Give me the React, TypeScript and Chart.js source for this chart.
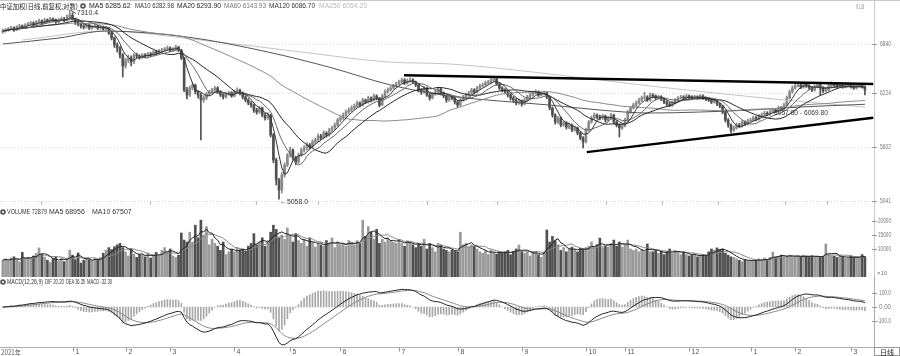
import React, { useEffect, useRef } from "react";
import { Chart, registerables } from "chart.js";

Chart.register(...registerables);

// ---------------- DATA ----------------
const monthLabels = ["2021年", "1", "2", "3", "4", "5", "6", "7", "8", "9", "10", "11", "12", "1", "2", "3"];
const monthDays = [-1, 25, 44, 60, 83, 103, 121, 142, 163, 186, 209, 223, 246, 268, 284, 304];

const firstOpen = 7010;
const closes = [
  7021, 7035, 7049, 7063, 7035, 7076, 7090, 7076, 7104,
  7118, 7132, 7104, 7146, 7160, 7132, 7174, 7160, 7188, 7174, 7146, 7174, 7188, 7174,
  7215, 7243, 7188, 7146,
  7118, 7090, 7076, 7104, 7063, 7076, 7090, 7063, 7076, 7049, 7063,
  6994, 6926, 6833,
  6793, 6701, 6559, 6636, 6662, 6610, 6701, 6688,
  6675, 6701, 6688, 6714, 6701, 6740, 6727, 6753, 6766, 6779, 6793, 6766,
  6779, 6806, 6766,
  6662, 6259, 6198, 6283, 6320, 6235, 6198,
  6138,
  6162, 6210, 6235, 6259, 6283,
  6235, 6198, 6174, 6210, 6222, 6186, 6235, 6259, 6222,
  6174, 6138, 6102, 6078,
  6019, 5996, 6043, 5961, 5926, 5961,
  5733, 5460, 5252, 5150,
  5303, 5407, 5514, 5568, 5482,
  5439, 5514, 5568, 5590, 5623, 5601,
  5656, 5678, 5722, 5700, 5756, 5733, 5789,
  5812, 5846, 5903, 5926, 5961, 5996, 6019,
  6043, 6066, 6102, 6078, 6138, 6114, 6162, 6138, 6186, 6162,
  6078,
  6186, 6235, 6259, 6283, 6308, 6332,
  6357, 6382, 6345, 6370, 6382, 6357, 6320,
  6259, 6235, 6283, 6198, 6162, 6210, 6235, 6271, 6222, 6186, 6138, 6174,
  6162, 6114, 6078, 6138, 6174, 6198,
  6222, 6259, 6235, 6283, 6308, 6320, 6345, 6357, 6382,
  6395,
  6332, 6283, 6259, 6235, 6198, 6162, 6138, 6102, 6126, 6090,
  6138, 6174, 6198, 6222, 6235, 6198, 6210, 6222, 6174,
  6043, 5961, 5880, 5926, 5846,
  5869, 5823, 5846, 5789, 5812, 5756, 5700, 5656,
  5789, 5880, 5926, 5961, 5938,
  5926, 5949, 5903, 5926, 5961, 5880, 5846, 5812, 5835,
  5903, 5996, 6043, 6078, 6102, 6138,
  6162, 6174, 6138, 6198, 6186, 6162, 6174, 6150,
  6114, 6090, 6078, 6102, 6138, 6162, 6174, 6162, 6186, 6174, 6162,
  6174, 6162, 6186, 6162, 6150, 6138, 6114, 6126, 6090, 6066,
  5996, 5903, 5846, 5789, 5812,
  5846, 5835, 5880, 5857, 5892, 5903, 5926, 5915,
  5949, 5961, 5984, 5973, 5996, 6019, 6007, 6043, 6031,
  6078, 6162, 6235, 6283, 6308,
  6320, 6296, 6332, 6308, 6283, 6259, 6296, 6320, 6283, 6247, 6259, 6308, 6332, 6320, 6296, 6308,
  6296, 6308, 6320, 6296, 6283, 6308, 6320, 6296, 6259,
];

const highs = [
  7050, 7060, 7070, 7085, 7080, 7095, 7115, 7105, 7125,
  7140, 7155, 7150, 7165, 7185, 7175, 7195, 7190, 7210, 7205, 7190, 7195, 7215, 7210,
  7245, 7310.4, 7275, 7200,
  7165, 7135, 7110, 7125, 7115, 7100, 7110, 7105, 7095, 7090, 7085,
  7075, 7010, 6940,
  6860, 6810, 6720, 6660, 6700, 6690, 6720, 6725,
  6705, 6720, 6720, 6735, 6735, 6760, 6760, 6775, 6790, 6800, 6820, 6810,
  6800, 6830, 6815,
  6775, 6670, 6290, 6310, 6345, 6330, 6250,
  6220,
  6190, 6230, 6255, 6280, 6305,
  6300, 6250, 6215, 6230, 6245, 6240, 6255, 6285, 6270,
  6235, 6190, 6155, 6120,
  6090, 6040, 6060, 6055, 5980, 5985,
  5970, 5750, 5480, 5270,
  5330, 5430, 5530, 5600, 5580,
  5500, 5535, 5590, 5615, 5650, 5640,
  5680, 5700, 5745, 5740, 5780, 5770, 5810,
  5835, 5870, 5925, 5950, 5985, 6020, 6045,
  6070, 6090, 6125, 6115, 6160, 6150, 6185, 6175, 6210, 6200,
  6170,
  6205, 6260, 6285, 6305, 6330, 6355,
  6380, 6405, 6400, 6395, 6410, 6400, 6370,
  6330, 6275, 6305, 6295, 6215, 6230, 6260, 6295, 6285, 6235, 6200, 6195,
  6190, 6175, 6130, 6155, 6195, 6220,
  6245, 6280, 6275, 6305, 6330, 6345, 6370, 6380, 6405,
  6420,
  6410, 6345, 6300, 6275, 6250, 6215, 6180, 6155, 6150, 6140,
  6160, 6195, 6220, 6245, 6260, 6250, 6235, 6245, 6235,
  6185, 6055, 5975, 5945, 5940,
  5890, 5885, 5870, 5860, 5835, 5825, 5770, 5715,
  5810, 5900, 5950, 5985, 5975,
  5960, 5970, 5960, 5945, 5980, 5970, 5895, 5860, 5855,
  5925, 6015, 6065, 6100, 6125, 6160,
  6185, 6230, 6190, 6220, 6215, 6200, 6195, 6190,
  6165, 6130, 6110, 6120, 6155, 6180, 6195, 6190, 6205, 6200, 6190,
  6195, 6190, 6205, 6200, 6175, 6165, 6150, 6145, 6140, 6100,
  6075, 6010, 5920, 5860, 5835,
  5870, 5865, 5900, 5895, 5915, 5925, 5950, 5945,
  5970, 5985, 6005, 6000, 6020, 6040, 6035, 6065, 6060,
  6100, 6185, 6260, 6310, 6335,
  6345, 6335, 6355, 6345, 6325, 6300, 6320, 6345, 6340, 6300, 6280, 6330, 6360, 6350, 6335, 6330,
  6325, 6330, 6345, 6335, 6315, 6330, 6340, 6335, 6310,
];

const lows = [
  6990, 7005, 7020, 7035, 7015, 7025, 7060, 7055, 7065,
  7090, 7105, 7085, 7095, 7130, 7110, 7120, 7140, 7150, 7155, 7125, 7135, 7165, 7150,
  7160, 7200, 7170, 7110,
  7090, 7060, 7050, 7060, 7040, 7045, 7060, 7040, 7045, 7030, 7035,
  6975, 6900, 6800,
  6740, 6660, 6420, 6530, 6600, 6560, 6590, 6660,
  6645, 6655, 6665, 6670, 6680, 6690, 6705, 6710, 6740, 6750, 6765, 6745,
  6750, 6765, 6745,
  6640, 6240, 6150, 6180, 6260, 6210, 6160,
  5678,
  6110, 6140, 6190, 6220, 6240,
  6215, 6180, 6150, 6160, 6195, 6170, 6175, 6220, 6200,
  6150, 6115, 6080, 6050,
  5990, 5970, 5980, 5940, 5900, 5910,
  5710, 5430, 5200, 5058,
  5120, 5280, 5390, 5490, 5460,
  5410, 5425, 5500, 5545, 5570, 5580,
  5590, 5635, 5660, 5680, 5690, 5710, 5720,
  5770, 5795, 5830, 5885, 5910, 5945, 5980,
  6000, 6025, 6050, 6055, 6065, 6095, 6100, 6115, 6125, 6140,
  6055,
  6070, 6170, 6220, 6245, 6270, 6295,
  6320, 6340, 6325, 6330, 6355, 6335, 6300,
  6235, 6205, 6220, 6180, 6135, 6150, 6195, 6220, 6200, 6165, 6110, 6120,
  6140, 6090, 6050, 6065, 6125, 6160,
  6185, 6210, 6215, 6225, 6270, 6295, 6305, 6330, 6340,
  6365,
  6315, 6260, 6235, 6210, 6175, 6135, 6110, 6080, 6085, 6065,
  6080, 6125, 6160, 6185, 6210, 6180, 6185, 6195, 6155,
  6020, 5935, 5855, 5860, 5825,
  5830, 5800, 5805, 5770, 5775, 5735, 5680, 5590,
  5645, 5775, 5865, 5910, 5915,
  5905, 5910, 5880, 5885, 5910, 5860, 5825, 5711, 5795,
  5825, 5890, 5980, 6030, 6060, 6090,
  6120, 6145, 6120, 6125, 6165, 6140, 6150, 6130,
  6095, 6070, 6060, 6060, 6090, 6125, 6150, 6145, 6150, 6155, 6145,
  6150, 6145, 6150, 6145, 6130, 6120, 6095, 6100, 6070, 6045,
  5975, 5880, 5820, 5760, 5770,
  5800, 5815, 5820, 5840, 5845, 5880, 5890, 5895,
  5900, 5935, 5945, 5955, 5960, 5985, 5990, 5995, 6015,
  6020, 6070, 6150, 6220, 6270,
  6295, 6275, 6280, 6290, 6265, 6240, 6245, 6285, 6200, 6225, 6235, 6245, 6295, 6300, 6280, 6285,
  6280, 6285, 6295, 6280, 6265, 6270, 6295, 6280, 6200,
];

// volume in axis units (x10)
const volumes = [
  6000, 6500, 5800, 6800, 7200, 6200, 5500, 8800, 6400, 7000, 6600, 7500,
  8500, 10400, 8200,
  7000, 6000, 5200, 6500, 7200, 5600, 6800, 5500,
  6500, 9600, 7800, 6200, 8600, 5000, 6000, 6800,
  6200, 5800, 6500, 6000, 7000,
  8500, 9500, 10500, 9800, 10800,
  11500, 12000, 10500,
  9000, 7500, 10000, 8200, 7000, 8000,
  8000, 7200, 8600, 6800, 7800, 8800, 7400,
  9500, 10500, 9000, 10000,
  7500, 7000, 7800,
  15700, 13200, 12500,
  16000, 12500, 18500, 14000,
  20300,
  15000, 18000, 11500, 13500,
  12000, 11000, 9500, 12500, 8000, 9000, 10000,
  9000, 10500, 9600, 10000, 9200,
  11000, 12000, 15500, 11500, 12500, 14000, 11000, 13000,
  16000, 18500, 17000, 14000, 15000,
  13500, 17500, 14500, 12500, 15500, 13000,
  12000, 13500, 11000, 14000, 12500, 10700, 12000, 11500,
  11000, 13000, 12000, 13900, 10500, 12500, 11500,
  12000, 11000, 13000, 12500, 11500, 13000, 12000,
  20300, 14500, 18000, 16000, 13500, 17000,
  12000, 13500, 12500, 14000, 13000, 12500, 12000, 13500,
  12000, 11000, 13000, 12500, 11500, 10500, 12000, 11000,
  13500, 10000, 12000, 10500, 9000, 12000, 11500, 10000, 9500, 9000,
  9600, 9200, 9000, 16000,
  11500, 12000, 10700, 11500, 11000, 10000,
  9000, 8500, 9500, 8000, 9600, 8800, 8200, 9000, 8500,
  9000, 9500, 8000, 9200, 10000, 11400, 9000,
  8500, 9000, 7500, 8800, 9200, 8000, 7000, 9000, 16800,
  12500, 14500, 13000, 11500,
  9500, 10500, 9000, 10000, 10700, 9800, 9000, 10300, 10000, 10500,
  11000, 12500, 10500, 11500, 13900, 10500, 11000,
  10700, 12000, 13200, 11000, 12500, 10700, 11500, 13200, 10000,
  9500, 10000, 9000, 9800, 9200, 11800, 9000,
  9000, 9500, 8500, 9200, 8000, 9000, 10000, 8500, 9500, 8800, 8000, 9000,
  8000, 7500, 7800, 8200, 7200, 7600, 8000, 7400,
  9000, 10000, 9600, 10400, 9800, 10000, 8500, 7800, 7200, 7000,
  6500, 6000, 5500, 6200, 5800, 6000,
  6000, 5800, 6500, 6000, 6800, 6200, 7000, 8900,
  7000, 7400, 7800, 7200, 7600, 7800, 7400, 7000, 7500, 7200, 7800, 7400, 7000, 7600, 7200, 7500, 7000, 7300,
  11800,
  8000, 7600, 7400, 7000, 7500, 7200, 6800, 7000, 7300, 6900, 7200, 7000, 8000, 7288,
];

const ma120Days = [0, 20, 37, 66, 95, 118, 139, 160, 178, 196, 214, 232, 250, 268, 286, 309];
const ma120Vals = [6846, 6926, 7021, 6940, 6740, 6534, 6320, 6186, 6126, 6078, 6019, 5984, 5996, 6019, 6055, 6087];
const ma250Days = [7, 37, 71, 107, 138, 160, 196, 232, 280, 309];
const ma250Vals = [6899, 7021, 6899, 6740, 6610, 6585, 6458, 6308, 6138, 6054];

const upperTrendDays = [143.8, 312];
const upperTrendVals = [6440, 6332];
const lowerTrendDays = [209.3, 312];
const lowerTrendVals = [5545, 5930];

const priceTicks = [6840, 6224, 5602, 5041];
const volTicks = [20000, 15000, 10000];
const macdTicks = [100, 0, -100];
const mainGridDays = [13.7, 52.8, 90.8, 113, 152, 177.1, 216.2, 236.3, 256.3, 280.4, 295.4];

const titleText = "中证加权(日线,前复权,对数)";
// [text, x, maxWidth, color]
const maLegend: [string, number, number, string][] = [
  ["MA5 6285.62", 89, 43, "#222"],
  ["MA10 6282.98", 135, 39, "#333"],
  ["MA20 6293.90", 177, 44, "#222"],
  ["MA60 6143.93", 224, 42, "#777"],
  ["MA120 6086.70", 269, 46, "#333"],
  ["MA250 6054.23", 319, 48, "#b8b8b8"],
];
const volLegend: [string, number, number][] = [["VOLUME 72879", 7, 40], ["MA5 68956", 49, 39], ["MA10 67507", 92, 41]];
const macdLegend: [string, number, number][] = [["MACD(12,26,9)", 7, 36], ["DIF 20.20", 45, 19], ["DEA 36.35", 66, 19], ["MACD -32.30", 87, 25]];
const rangeText = "6057.80 - 6069.80";

// ---------------- HELPERS ----------------
const N = Math.min(closes.length, highs.length, lows.length, volumes.length);
const idx = Array.from({ length: N }, (_, i) => i);
const opens = idx.map((i) => (i === 0 ? firstOpen : closes[i - 1]));
const isUp = idx.map((i) => closes[i] >= opens[i]);

function sma(arr: number[], n: number) {
  return arr.map((_, i) => {
    const s = Math.max(0, i - n + 1);
    let sum = 0;
    for (let k = s; k <= i; k++) sum += arr[k];
    return sum / (i - s + 1);
  });
}
function ema(arr: number[], n: number) {
  const a = 2 / (n + 1);
  const out: number[] = [];
  arr.forEach((v, i) => out.push(i === 0 ? v : out[i - 1] + a * (v - out[i - 1])));
  return out;
}
const cl = closes.slice(0, N);
const vol = volumes.slice(0, N);
const ema12 = ema(cl, 12);
const ema26 = ema(cl, 26);
const dif = cl.map((_, i) => ema12[i] - ema26[i]);
const dea = ema(dif, 9);
const hist = dif.map((d, i) => 2 * (d - dea[i]));

const XMIN = -1;
const XMAX = 312.26;
const FONT = '7px "Liberation Sans", Arial, sans-serif';
const CJK = '7px "Noto Sans CJK SC", sans-serif';

function txt(ctx: any, s: string, x: number, y: number, color: string, font = FONT, align = "left", maxW?: number) {
  ctx.save();
  ctx.font = font;
  ctx.fillStyle = color;
  ctx.textAlign = align;
  ctx.textBaseline = "middle";
  if (maxW) ctx.fillText(s, x, y, maxW);
  else ctx.fillText(s, x, y);
  ctx.restore();
}
function icon(ctx: any, x: number, y: number) {
  ctx.save();
  ctx.fillStyle = "#555";
  ctx.beginPath();
  ctx.arc(x, y, 2.8, 0, Math.PI * 2);
  ctx.fill();
  ctx.fillStyle = "#fff";
  ctx.beginPath();
  ctx.arc(x, y, 1.1, 0, Math.PI * 2);
  ctx.fill();
  ctx.restore();
}
function hline(ctx: any, x1: number, x2: number, y: number, color: string, dash: number[] = []) {
  ctx.save();
  ctx.strokeStyle = color;
  ctx.lineWidth = 1;
  ctx.setLineDash(dash);
  ctx.beginPath();
  ctx.moveTo(x1, y);
  ctx.lineTo(x2, y);
  ctx.stroke();
  ctx.restore();
}
function vline(ctx: any, x: number, y1: number, y2: number, color: string) {
  ctx.save();
  ctx.strokeStyle = color;
  ctx.lineWidth = 1;
  ctx.beginPath();
  ctx.moveTo(x, y1);
  ctx.lineTo(x, y2);
  ctx.stroke();
  ctx.restore();
}

function lineDs(data: any[], color: string, width = 1, order = 1, extra: any = {}) {
  return {
    type: "line",
    data,
    borderColor: color,
    borderWidth: width,
    pointRadius: 0,
    fill: false,
    order,
    ...extra,
  };
}

function baseOptions(yType: string, ymin: number, ymax: number, bottomPad = 0) {
  return {
    responsive: false,
    animation: false,
    devicePixelRatio: 1,
    events: [],
    layout: { padding: { left: 0, right: 26, top: 0, bottom: bottomPad } },
    plugins: { legend: { display: false }, tooltip: { enabled: false } },
    scales: {
      x: { type: "linear", min: XMIN, max: XMAX, display: false, offset: false },
      y: { type: yType, min: ymin, max: ymax, display: false },
    },
  };
}

// ---------------- CHART CONFIGS ----------------
function mainConfig(): any {
  const ma = (n: number) => sma(cl, n).map((v, i) => ({ x: i, y: v }));
  const candleColor = idx.map((i) => (isUp[i] ? "#8a8a8a" : "#505050"));
  return {
    type: "bar",
    data: {
      datasets: [
        {
          data: idx.map((i) => ({ x: i, y: [lows[i], highs[i]] })),
          backgroundColor: candleColor,
          barThickness: 1,
          grouped: false,
          order: 20,
        },
        {
          data: idx.map((i) => ({ x: i, y: [opens[i], closes[i]] })),
          backgroundColor: candleColor,
          barThickness: 2,
          grouped: false,
          order: 19,
        },
        lineDs(ma250Days.map((d, i) => ({ x: d, y: ma250Vals[i] })), "#c4c4c4", 1, 9, { cubicInterpolationMode: "monotone" }),
        lineDs(ma120Days.map((d, i) => ({ x: d, y: ma120Vals[i] })), "#555", 1, 8, { cubicInterpolationMode: "monotone" }),
        lineDs(ma(60), "#888", 1, 7),
        lineDs(ma(20), "#222", 1, 6),
        lineDs(ma(10), "#666", 1, 5),
        lineDs(ma(5), "#333", 1, 4),
        lineDs(upperTrendDays.map((d, i) => ({ x: d, y: upperTrendVals[i] })), "#000", 2.5, 0),
        lineDs(lowerTrendDays.map((d, i) => ({ x: d, y: lowerTrendVals[i] })), "#000", 2.5, 0),
      ],
    },
    options: baseOptions("logarithmic", 5002, 7459),
    plugins: [
      {
        id: "mainDeco",
        beforeDatasetsDraw(chart: any) {
          const { ctx, chartArea, scales } = chart;
          priceTicks.forEach((v) => {
            const y = Math.round(scales.y.getPixelForValue(v)) + 0.5;
            hline(ctx, chartArea.left, chartArea.right, y, "#d6d6d6", [1, 2]);
          });
        },
        afterDraw(chart: any) {
          const { ctx, chartArea, scales } = chart;
          const R = chartArea.right;
          hline(ctx, 0, 900, 0.5, "#c8c8c8");
          vline(ctx, R + 0.5, 0, chart.height, "#c8c8c8");
          priceTicks.forEach((v) => {
            const y = Math.round(scales.y.getPixelForValue(v)) + 0.5;
            hline(ctx, R - 2, R + 3, y, "#999");
            txt(ctx, String(v), 891, y, "#777", FONT, "right", 11);
          });
          mainGridDays.forEach((d) => {
            const x = Math.round(scales.x.getPixelForValue(d)) + 0.5;
            vline(ctx, x, chartArea.bottom - 4, chartArea.bottom, "#bbb");
          });
          // legend
          txt(ctx, titleText, 0, 6, "#222", CJK, "left", 78);
          icon(ctx, 83, 6);
          maLegend.forEach(([s, x, w, c]) => txt(ctx, s, x, 6, c, FONT, "left", w));
          txt(ctx, "0 LB", 856, 7, "#888", FONT, "left", 8);
          // peak annotation
          let hi = 0;
          idx.forEach((i) => { if (highs[i] > highs[hi]) hi = i; });
          const hx = scales.x.getPixelForValue(hi);
          const hy = scales.y.getPixelForValue(highs[hi]);
          ctx.save();
          ctx.strokeStyle = "#444";
          ctx.beginPath();
          ctx.moveTo(hx + 1, hy);
          ctx.lineTo(hx + 6, hy + 3);
          ctx.stroke();
          ctx.restore();
          txt(ctx, highs[hi].toFixed(1), hx + 7, hy + 3, "#333", FONT, "left", 22);
          // low annotation
          let lo = 0;
          idx.forEach((i) => { if (lows[i] < lows[lo]) lo = i; });
          const lx = scales.x.getPixelForValue(lo);
          const ly = scales.y.getPixelForValue(lows[lo]);
          txt(ctx, "←" + lows[lo].toFixed(1), lx + 1, ly + 3, "#333", FONT, "left", 28);
          // range annotation
          txt(ctx, rangeText, 774, 113, "#333", FONT, "left", 54);
        },
      },
    ],
  };
}

function volConfig(): any {
  const colors = idx.map((i) => (isUp[i] ? "#9a9a9a" : "#505050"));
  return {
    type: "bar",
    data: {
      datasets: [
        { data: idx.map((i) => ({ x: i, y: vol[i] })), backgroundColor: colors, barThickness: 2, grouped: false, order: 10 },
        lineDs(sma(vol, 5).map((v, i) => ({ x: i, y: v })), "#222", 1, 2),
        lineDs(sma(vol, 10).map((v, i) => ({ x: i, y: v })), "#888", 1, 3),
      ],
    },
    options: baseOptions("linear", 0, 25714),
    plugins: [
      {
        id: "volDeco",
        afterDraw(chart: any) {
          const { ctx, chartArea, scales } = chart;
          const R = chartArea.right;
          vline(ctx, R + 0.5, 0, chart.height, "#c8c8c8");
          volTicks.forEach((v) => {
            const y = Math.round(scales.y.getPixelForValue(v)) + 0.5;
            hline(ctx, R - 2, R + 3, y, "#999");
            txt(ctx, String(v), 891, y, "#777", FONT, "right", 13);
          });
          txt(ctx, "×10", 877, 68, "#777", '6px "Liberation Sans", sans-serif');
          icon(ctx, 3, 7);
          volLegend.forEach(([s, x, w]) => txt(ctx, s, x, 7, "#333", FONT, "left", w));
        },
      },
    ],
  };
}

function macdConfig(): any {
  return {
    type: "bar",
    data: {
      datasets: [
        { data: idx.map((i) => ({ x: i, y: hist[i] })), backgroundColor: "#a8a8a8", barThickness: 1, grouped: false, order: 10 },
        lineDs(dea.map((v, i) => ({ x: i, y: v })), "#888", 1, 3),
        lineDs(dif.map((v, i) => ({ x: i, y: v })), "#222", 1, 2),
      ],
    },
    options: baseOptions("linear", -276, 207, 9),
    plugins: [
      {
        id: "macdDeco",
        afterDraw(chart: any) {
          const { ctx, chartArea, scales } = chart;
          const R = chartArea.right;
          vline(ctx, R + 0.5, 0, chart.height, "#aaa");
          macdTicks.forEach((v) => {
            const y = Math.round(scales.y.getPixelForValue(v)) + 0.5;
            hline(ctx, R - 2, R + 3, y, "#999");
            txt(ctx, v === 0 ? "0.00" : v.toFixed(1), 891, y, "#777", FONT, "right", v < 0 ? 14 : 12);
          });
          icon(ctx, 3, 5);
          macdLegend.forEach(([s, x, w]) => txt(ctx, s, x, 5, "#333", FONT, "left", w));
          // date axis
          const by = chartArea.bottom + 0.5;
          hline(ctx, 0, 900, by, "#b0b0b0");
          monthDays.forEach((d, k) => {
            const x = d < 0 ? 0 : Math.round(scales.x.getPixelForValue(d)) + 0.5;
            if (d >= 0) vline(ctx, x, by, by + 4, "#999");
            txt(ctx, monthLabels[k], d < 0 ? 1 : x + 2, by + 4.5, "#555", k === 0 ? CJK : FONT, "left", k === 0 ? 20 : 8);
          });
          // 日线 box
          ctx.save();
          ctx.strokeStyle = "#999";
          ctx.strokeRect(R + 0.5, by, 900 - R - 1, chart.height - by - 0.5);
          ctx.restore();
          txt(ctx, "日线", 887, by + 4.5, "#222", CJK, "center");
        },
      },
    ],
  };
}

// ---------------- COMPONENT ----------------
export default function App() {
  const r1 = useRef<HTMLCanvasElement>(null);
  const r2 = useRef<HTMLCanvasElement>(null);
  const r3 = useRef<HTMLCanvasElement>(null);
  useEffect(() => {
    document.body.style.margin = "0";
    const charts = [
      new Chart(r1.current as HTMLCanvasElement, mainConfig()),
      new Chart(r2.current as HTMLCanvasElement, volConfig()),
      new Chart(r3.current as HTMLCanvasElement, macdConfig()),
    ];
    return () => charts.forEach((c) => c.destroy());
  }, []);
  const cs = (top: number, h: number): any => ({ position: "absolute", left: 0, top, width: 900, height: h });
  return (
    <div style={{ position: "relative", width: 900, height: 356, background: "#fff", overflow: "hidden" }}>
      <canvas ref={r1} width={900} height={205} style={cs(0, 205)} />
      <canvas ref={r2} width={900} height={72} style={cs(205, 72)} />
      <canvas ref={r3} width={900} height={79} style={cs(277, 79)} />
    </div>
  );
}
